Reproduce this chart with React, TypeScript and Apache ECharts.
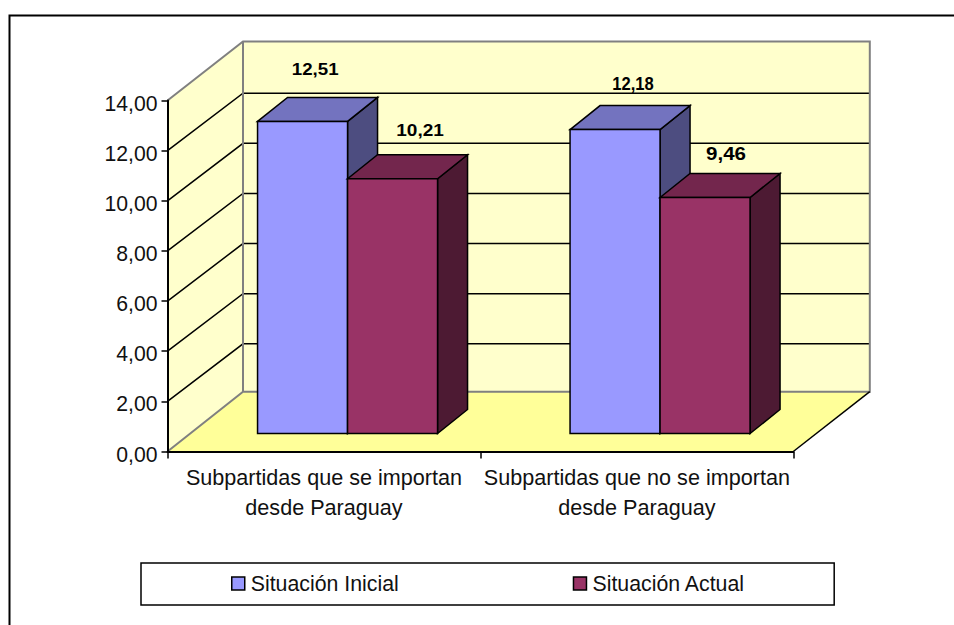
import React, { useEffect, useRef } from "react";
import * as echarts from "echarts";

const categories = ["Subpartidas que se importan\ndesde Paraguay", "Subpartidas que no se importan\ndesde Paraguay"];
const seriesNames = ["Situación Inicial", "Situación Actual"];
const inicial = [12.51, 12.18];
const actual = [10.21, 9.46];
const gridTicks = [2, 4, 6, 8, 10, 12];

const FONT = "'Liberation Sans', Arial, sans-serif";
const blue = { front: "#9999FF", top: "#7373BF", side: "#4D4D80" };
const red = { front: "#993366", top: "#73264D", side: "#4D1A33" };
const BAR_W = 90;
const DEPTH_X = 30;
const DEPTH_Y = -24;
const WALL_X = 75.5;

const fmt = (v: number) => v.toFixed(2).replace(".", ",");

// label placement relative to the bar's front-top centre, per category
const labelStyleInicial = [
  { dx: 12.6, dy: -52, size: 17, sx: 1.1 },
  { dx: 18, dy: -45.5, size: 18, sx: 0.92 },
];
const labelStyleActual = [
  { dx: 27.5, dy: -48.7, size: 17, sx: 1.12 },
  { dx: 21, dy: -44.4, size: 19, sx: 1.08 },
];

function barRenderer(offset: number, colors: any, labels: any[]) {
  return (params: any, api: any) => {
    const idx = api.value(0);
    const val = api.value(1);
    const [cx, yTop] = api.coord([idx, val]);
    const [, yBase] = api.coord([idx, 0]);
    const x0 = cx + offset;
    const x1 = x0 + BAR_W;
    const line = { stroke: "#000", lineWidth: 1.5, lineJoin: "miter" };
    const l = labels[params.dataIndex];
    return {
      type: "group",
      children: [
        {
          type: "polygon",
          shape: { points: [[x1, yTop], [x1 + DEPTH_X, yTop + DEPTH_Y], [x1 + DEPTH_X, yBase + DEPTH_Y], [x1, yBase]] },
          style: { fill: colors.side, ...line },
        },
        {
          type: "polygon",
          shape: { points: [[x0, yTop], [x0 + DEPTH_X, yTop + DEPTH_Y], [x1 + DEPTH_X, yTop + DEPTH_Y], [x1, yTop]] },
          style: { fill: colors.top, ...line },
        },
        {
          type: "rect",
          shape: { x: x0, y: yTop, width: BAR_W, height: yBase - yTop },
          style: { fill: colors.front, ...line },
        },
        {
          type: "text",
          x: (x0 + x1) / 2 + l.dx,
          y: yTop + l.dy,
          scaleX: l.sx,
          style: {
            text: fmt(val),
            fill: "#000",
            font: `bold ${l.size}px ${FONT}`,
            textAlign: "center",
            textVerticalAlign: "middle",
          },
        },
      ],
    };
  };
}

export default function App() {
  const ref = useRef<HTMLDivElement>(null);
  useEffect(() => {
    document.body.style.margin = "0";
    const chart = echarts.init(ref.current!, undefined, { renderer: "svg" });
    chart.setOption({
      animation: false,
      backgroundColor: "#fff",
      textStyle: { fontFamily: FONT },
      tooltip: { show: false },
      graphic: [
        {
          type: "polyline",
          silent: true,
          shape: { points: [[9.5, 625], [9.5, 15.5], [954, 15.5]] },
          style: { stroke: "#000", lineWidth: 2, fill: "none" },
        },
      ],
      grid: [
        { left: 167.5, top: 100.5, width: 625.8, height: 351 },
        { left: 191.3, top: 84.2, width: 625, height: 349.3 },
      ],
      xAxis: [
        {
          type: "category",
          gridIndex: 0,
          data: categories,
          z: 10,
          axisLine: { lineStyle: { color: "#000", width: 2 } },
          axisTick: { show: true, length: 7, lineStyle: { color: "#000", width: 1.5 } },
          axisLabel: { color: "#111", fontSize: 21.6, fontFamily: FONT, lineHeight: 30, margin: 11, interval: 0 },
        },
        { type: "category", gridIndex: 1, data: categories, show: false },
      ],
      yAxis: [
        {
          type: "value",
          gridIndex: 0,
          min: 0,
          max: 14,
          interval: 2,
          z: 10,
          axisLine: { show: true, lineStyle: { color: "#000", width: 2 } },
          axisTick: { show: true, length: 6, lineStyle: { color: "#000", width: 1.5 } },
          splitLine: { show: false },
          axisLabel: { color: "#111", fontSize: 21.2, fontFamily: FONT, margin: 10, verticalAlign: "top", lineHeight: 5, formatter: fmt },
        },
        { type: "value", gridIndex: 1, min: 0, max: 14, interval: 2, show: false },
      ],
      legend: {
        data: seriesNames,
        left: 141,
        top: 563,
        orient: "horizontal",
        padding: [10, 89, 11, 90],
        itemWidth: 13,
        itemHeight: 13,
        itemGap: 174,
        icon: "rect",
        selectedMode: false,
        backgroundColor: "#fff",
        borderColor: "#000",
        borderWidth: 1.5,
        borderRadius: 0,
        itemStyle: { borderColor: "#000", borderWidth: 1.5 },
        textStyle: { color: "#111", fontSize: 21.3, fontFamily: FONT, padding: [0, 0, 0, 1] },
      },
      series: [
        {
          type: "custom",
          name: "walls",
          xAxisIndex: 0,
          yAxisIndex: 0,
          z: 1,
          silent: true,
          data: [[0, 14]],
          encode: { x: 0, y: 1 },
          renderItem: (params: any, api: any) => {
            const cs = params.coordSys;
            const yT = api.coord([0, 14])[1];
            const yB = api.coord([0, 0])[1];
            const xL = cs.x;
            const xR = cs.x + cs.width;
            const topB = yT - 59;
            const botB = yB - 59.8;
            return {
              type: "group",
              children: [
                {
                  type: "polygon",
                  shape: { points: [[xL, yT], [xL + WALL_X, topB], [xL + WALL_X, botB], [xL, yB]] },
                  style: { fill: "#FFFFCC" },
                },
                {
                  type: "rect",
                  shape: { x: xL + WALL_X, y: topB, width: xR - xL + 1, height: botB - topB },
                  style: { fill: "#FFFFCC" },
                },
                {
                  type: "polygon",
                  shape: { points: [[xL, yB], [xL + WALL_X, botB], [xR + WALL_X + 1, botB], [xR, yB]] },
                  style: { fill: "#FFFF99" },
                },
              ],
            };
          },
        },
        {
          type: "custom",
          name: "gridlines",
          xAxisIndex: 0,
          yAxisIndex: 0,
          z: 2,
          silent: true,
          data: gridTicks.map((t) => [0, t]),
          encode: { x: 0, y: 1 },
          renderItem: (params: any, api: any) => {
            const cs = params.coordSys;
            const y = api.coord([0, api.value(1)])[1];
            const xL = cs.x;
            const yBack = y - 57.5;
            return {
              type: "polyline",
              shape: { points: [[xL, y], [xL + WALL_X, yBack], [cs.x + cs.width + WALL_X + 1, yBack]] },
              style: { stroke: "#000", lineWidth: 1.5, fill: "none" },
            };
          },
        },
        {
          type: "custom",
          name: "wallEdges",
          xAxisIndex: 0,
          yAxisIndex: 0,
          z: 3,
          silent: true,
          data: [[0, 14]],
          encode: { x: 0, y: 1 },
          renderItem: (params: any, api: any) => {
            const cs = params.coordSys;
            const yT = api.coord([0, 14])[1];
            const yB = api.coord([0, 0])[1];
            const xL = cs.x;
            const xR = cs.x + cs.width;
            const topB = yT - 59;
            const botB = yB - 59.8;
            const gray = { stroke: "#808080", lineWidth: 2, fill: "none" };
            return {
              type: "group",
              children: [
                {
                  type: "polyline",
                  shape: { points: [[xL, yT], [xL + WALL_X, topB], [xR + WALL_X + 1, topB], [xR + WALL_X + 1, botB], [xL + WALL_X, botB], [xL, yB]] },
                  style: gray,
                },
                {
                  type: "line",
                  shape: { x1: xL + WALL_X, y1: topB, x2: xL + WALL_X, y2: botB },
                  style: gray,
                },
                {
                  type: "line",
                  shape: { x1: xR, y1: yB, x2: xR + WALL_X + 1, y2: botB },
                  style: { stroke: "#000", lineWidth: 1.5 },
                },
              ],
            };
          },
        },
        {
          type: "custom",
          name: seriesNames[0],
          xAxisIndex: 1,
          yAxisIndex: 1,
          z: 4,
          itemStyle: { color: blue.front },
          data: inicial.map((v, i) => [i, v]),
          encode: { x: 0, y: 1 },
          renderItem: barRenderer(-BAR_W, blue, labelStyleInicial),
        },
        {
          type: "custom",
          name: seriesNames[1],
          xAxisIndex: 1,
          yAxisIndex: 1,
          z: 5,
          itemStyle: { color: red.front },
          data: actual.map((v, i) => [i, v]),
          encode: { x: 0, y: 1 },
          renderItem: barRenderer(0, red, labelStyleActual),
        },
      ],
    });
    return () => chart.dispose();
  }, []);
  return <div ref={ref} style={{ position: "fixed", left: 0, top: 0, width: 954, height: 625 }} />;
}
